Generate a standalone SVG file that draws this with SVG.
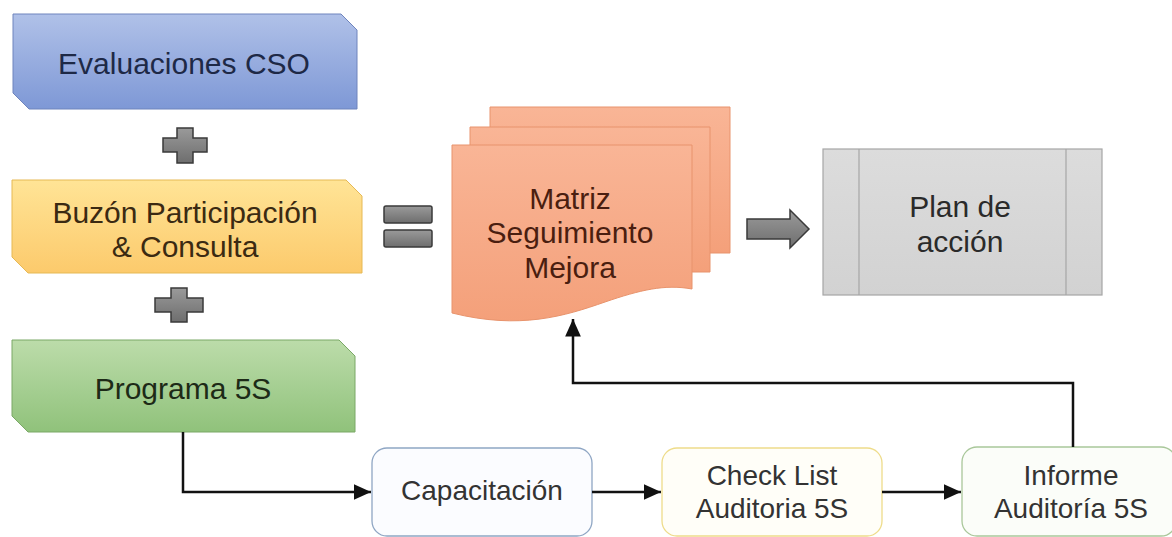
<svg xmlns="http://www.w3.org/2000/svg" width="1172" height="537" viewBox="0 0 1172 537">
<style>
text{font-family:"Liberation Sans",Arial,sans-serif;text-anchor:middle}
.t30{font-size:30px}
.t28{font-size:28px;fill:#333}
.conn{fill:none;stroke:#111;stroke-width:2.5}
.op{stroke:#3a3a3a;stroke-width:1.5;fill:url(#gGray)}
</style>
<defs>
<linearGradient id="gBlue" x1="0" y1="0" x2="0" y2="1"><stop offset="0" stop-color="#b0c1e8"/><stop offset="1" stop-color="#7e98d6"/></linearGradient>
<linearGradient id="gYel" x1="0" y1="0" x2="0" y2="1"><stop offset="0" stop-color="#ffe496"/><stop offset="1" stop-color="#fcca6c"/></linearGradient>
<linearGradient id="gGrn" x1="0" y1="0" x2="0" y2="1"><stop offset="0" stop-color="#bcdcaa"/><stop offset="1" stop-color="#90c27b"/></linearGradient>
<linearGradient id="gDoc" x1="0" y1="0" x2="0" y2="1"><stop offset="0" stop-color="#f9b596"/><stop offset="1" stop-color="#f4a07a"/></linearGradient>
<linearGradient id="gPlan" x1="0" y1="0" x2="0" y2="1"><stop offset="0" stop-color="#dcdcdc"/><stop offset="1" stop-color="#d2d2d2"/></linearGradient>
<linearGradient id="gGray" x1="0" y1="0" x2="0" y2="1"><stop offset="0" stop-color="#9a9a9a"/><stop offset="1" stop-color="#6e6e6e"/></linearGradient>
<marker id="ah" viewBox="0 0 10 9" refX="10" refY="4.5" markerWidth="7" markerHeight="6.3" orient="auto" markerUnits="strokeWidth"><path d="M0,0 L10,4.5 L0,9 Z" fill="#111"/></marker>
</defs>

<g id="evaluaciones">
<path d="M13,14 H341 L357,30 V109 H29 L13,93 Z" fill="url(#gBlue)" stroke="#6f84bd" stroke-width="1"/>
<text class="t30" x="184" y="74" fill="#1e2946">Evaluaciones  CSO</text>
</g>
<g id="plus1">
<path class="op" d="M177,128 H193 V138 H207 V152 H193 V163 H177 V152 H163 V138 H177 Z"/>
</g>
<g id="buzon">
<path d="M12,180 H346 L362,196 V273 H28 L12,257 Z" fill="url(#gYel)" stroke="#e6b955" stroke-width="1"/>
<text class="t30" x="185" y="223" fill="#3b2a12">Buzón Participación</text>
<text class="t30" x="185" y="257" fill="#3b2a12">&amp; Consulta</text>
</g>
<g id="plus2">
<path class="op" d="M171,288 H187 V298 H203 V312 H187 V322 H171 V312 H155 V298 H171 Z"/>
</g>
<g id="programa">
<path d="M12,340 H339 L355,356 V432 H28 L12,416 Z" fill="url(#gGrn)" stroke="#7aa866" stroke-width="1"/>
<text class="t30" x="183" y="399" fill="#1d2a17">Programa  5S</text>
</g>
<g id="equals">
<rect class="op" x="384" y="206" width="48" height="17" rx="2"/>
<rect class="op" x="384" y="230" width="48" height="17" rx="2"/>
</g>
<g id="matriz">
<path d="M490,107 H730 V253 H490 Z" fill="url(#gDoc)" stroke="#e8936c" stroke-width="1"/>
<path d="M470,127 H710 V272 H470 Z" fill="url(#gDoc)" stroke="#e8936c" stroke-width="1"/>
<path d="M452,145 H692 V289 C665,284 640,290 605,302 C565,316 520,330 452,313 Z" fill="url(#gDoc)" stroke="#e8936c" stroke-width="1"/>
<text class="t30" x="570" y="209" fill="#4a1e10">Matriz</text>
<text class="t30" x="570" y="243" fill="#4a1e10">Seguimiento</text>
<text class="t30" x="570" y="278" fill="#4a1e10">Mejora</text>
</g>
<g id="arrow">
<path class="op" d="M747,219 H790 V210 L809,229 L790,248 V239 H747 Z"/>
</g>
<g id="plan">
<rect x="823" y="149" width="279" height="146" fill="url(#gPlan)" stroke="#a6a6a6" stroke-width="1.2"/>
<line x1="859" y1="149" x2="859" y2="295" stroke="#a6a6a6" stroke-width="1.2"/>
<line x1="1066" y1="149" x2="1066" y2="295" stroke="#a6a6a6" stroke-width="1.2"/>
<text class="t30" x="960" y="217" fill="#2a2a2a">Plan de</text>
<text class="t30" x="960" y="252" fill="#2a2a2a">acción</text>
</g>
<g id="capacitacion">
<rect x="372" y="448" width="220" height="88" rx="15" fill="#fbfcff" stroke="#8fa6c4" stroke-width="1.3"/>
<text class="t28" x="482" y="500">Capacitación</text>
</g>
<g id="checklist">
<rect x="662" y="448" width="220" height="88" rx="15" fill="#fffef8" stroke="#eedc8a" stroke-width="1.3"/>
<text class="t28" x="772" y="485">Check List</text>
<text class="t28" x="772" y="518">Auditoria 5S</text>
</g>
<g id="informe">
<rect x="962" y="447" width="214" height="89" rx="15" fill="#fbfdf9" stroke="#a9c79a" stroke-width="1.3"/>
<text class="t28" x="1071" y="485">Informe</text>
<text class="t28" x="1071" y="518">Auditoría 5S</text>
</g>
<g id="connectors">
<path class="conn" d="M183,432 V492 H371" marker-end="url(#ah)"/>
<path class="conn" d="M592,492 H661" marker-end="url(#ah)"/>
<path class="conn" d="M882,492 H961" marker-end="url(#ah)"/>
<path class="conn" d="M1073,447 V383 H573 V319" marker-end="url(#ah)"/>
</g>
</svg>
